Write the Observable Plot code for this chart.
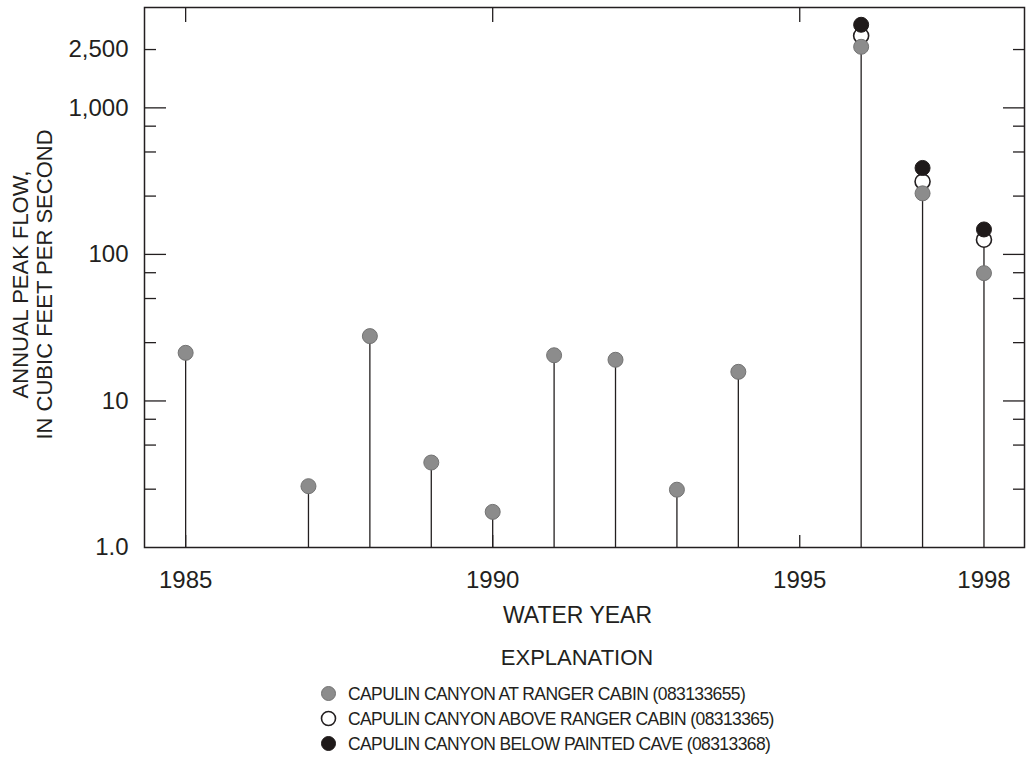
<!DOCTYPE html>
<html>
<head>
<meta charset="utf-8">
<script src="https://cdn.jsdelivr.net/npm/d3@7"></script>
<script src="https://cdn.jsdelivr.net/npm/@observablehq/plot@0.6"></script>
<style>
  html, body { margin: 0; padding: 0; background: #fff; }
  body { position: relative; width: 1029px; height: 761px; font-family: "Liberation Sans", Arial, sans-serif; color: #231f20; }
  #chart { position: absolute; left: 0; top: 0; }
  .expl { position: absolute; left: 427px; width: 300px; text-align: center; font-size: 22px; line-height: 22px; }
  .row { position: absolute; left: 320px; height: 20px; font-size: 17.5px; line-height: 20px; white-space: nowrap; letter-spacing: -0.6px; }
  .row svg { position: absolute; left: 0; top: 2px; }
  .row span { position: absolute; left: 28px; top: 1px; }
</style>
</head>
<body>
<div id="chart"></div>
<div class="expl" id="expl"></div>
<div id="legend"></div>
<script>
// ---- data ----
const rangerYears = [1985, 1987, 1988, 1989, 1990, 1991, 1992, 1993, 1994, 1996, 1997, 1998];
const rangerFlow  = [21.3, 2.62, 27.7, 3.80, 1.75, 20.5, 19.1, 2.48, 15.8, 2610, 261, 74.5];
const aboveYears  = [1996, 1997, 1998];
const aboveFlow   = [3100, 314, 126];
const belowYears  = [1996, 1997, 1998];
const belowFlow   = [3690, 389, 148];

const yLabelTicks = [1, 10, 100, 1000, 2500];
const yLabelText  = ["1.0", "10", "100", "1,000", "2,500"];
const yMajorTicks = [10, 100, 1000];
const yMinorTicks = [2.5, 5, 7.5, 25, 50, 75, 250, 500, 750, 2500];
const xLabelTicks = [1985, 1990, 1995, 1998];
const xTickMarks  = [1985, 1990, 1995];

const seriesNames = [
  "CAPULIN CANYON AT RANGER CABIN (083133655)",
  "CAPULIN CANYON ABOVE RANGER CABIN (08313365)",
  "CAPULIN CANYON BELOW PAINTED CAVE (08313368)"
];

// ---- tables ----
const ranger = rangerYears.map((y, i) => ({year: y, flow: rangerFlow[i]}));
const above  = aboveYears.map((y, i) => ({year: y, flow: aboveFlow[i]}));
const below  = belowYears.map((y, i) => ({year: y, flow: belowFlow[i]}));
const all = ranger.concat(above, below);
const stems = d3.rollups(all, v => d3.max(v, d => d.flow), d => d.year).map(([year, top]) => ({year, top}));

const ink = "#231f20";
const grayFill = "#8c8c8c", grayStroke = "#737373";

const chart = Plot.plot({
  width: 1029,
  height: 640,
  marginLeft: 144,
  marginRight: 5,
  marginTop: 7,
  marginBottom: 93,
  style: {fontFamily: "'Liberation Sans', Arial, sans-serif", fontSize: "24px", color: ink, background: "#fff"},
  x: {domain: [1984.33, 1998.66], axis: null},
  y: {type: "log", domain: [1, 4840], axis: null},
  marks: [
    // ticks inward
    Plot.axisY(yMajorTicks, {anchor: "left", tickSize: -22, tickFormat: () => "", label: null, stroke: ink, strokeWidth: 1.3}),
    Plot.axisY(yMinorTicks, {anchor: "left", tickSize: -12, tickFormat: () => "", label: null, stroke: ink, strokeWidth: 1.3}),
    Plot.axisY(yMajorTicks, {anchor: "right", tickSize: -22, tickFormat: () => "", label: null, stroke: ink, strokeWidth: 1.3}),
    Plot.axisY(yMinorTicks, {anchor: "right", tickSize: -12, tickFormat: () => "", label: null, stroke: ink, strokeWidth: 1.3}),
    Plot.axisX(xTickMarks, {anchor: "top", tickSize: -14, tickFormat: () => "", label: null, stroke: ink, strokeWidth: 1.3}),
    Plot.axisX(xTickMarks, {anchor: "bottom", tickSize: -12, tickFormat: () => "", label: null, stroke: ink, strokeWidth: 1.3}),
    // labels
    Plot.axisY(yLabelTicks, {anchor: "left", tickSize: 0, tickPadding: 16, tickFormat: d => yLabelText[yLabelTicks.indexOf(d)], label: null, fill: ink, fontSize: 24}),
    Plot.axisX(xLabelTicks, {anchor: "bottom", tickSize: 0, tickPadding: 23, tickFormat: d => String(d), label: null, fill: ink, fontSize: 24}),
    // stems
    Plot.ruleX(stems, {x: "year", y1: () => 1, y2: "top", stroke: ink, strokeWidth: 1.3}),
    // points
    Plot.dot(above, {x: "year", y: "flow", r: 7.5, fill: "#fff", stroke: ink, strokeWidth: 1.6}),
    Plot.dot(ranger, {x: "year", y: "flow", r: 7.5, fill: grayFill, stroke: grayStroke, strokeWidth: 1}),
    Plot.dot(below, {x: "year", y: "flow", r: 7.5, fill: "#1f1a1a", stroke: "#1f1a1a", strokeWidth: 1}),
    // frame
    Plot.frame({stroke: ink, strokeWidth: 1.5}),
    // axis titles
    Plot.text(["ANNUAL PEAK FLOW,\nIN CUBIC FEET PER SECOND"], {frameAnchor: "left", rotate: -90, dx: -112, dy: 7, lineHeight: 1.09, fontSize: 22, fill: ink, textAnchor: "middle", lineAnchor: "middle"}),
    Plot.text(["WATER YEAR"], {frameAnchor: "bottom", dx: -7, dy: 68, fontSize: 23, fill: ink, lineAnchor: "middle"})
  ]
});
document.getElementById("chart").appendChild(chart);

// ---- legend ----
const expl = document.getElementById("expl");
expl.textContent = "EXPLANATION";
expl.style.top = "647px";

const legendStyles = [
  {fill: grayFill, stroke: grayStroke, sw: 1},
  {fill: "#fff", stroke: ink, sw: 1.6},
  {fill: "#1f1a1a", stroke: "#1f1a1a", sw: 1}
];
const legend = document.getElementById("legend");
seriesNames.forEach((name, i) => {
  const row = document.createElement("div");
  row.className = "row";
  row.style.top = (683 + i * 25) + "px";
  const s = legendStyles[i];
  row.innerHTML = `<svg width="17" height="17"><circle cx="8.5" cy="8.5" r="7" fill="${s.fill}" stroke="${s.stroke}" stroke-width="${s.sw}"/></svg><span>${name}</span>`;
  legend.appendChild(row);
});
</script>
</body>
</html>
